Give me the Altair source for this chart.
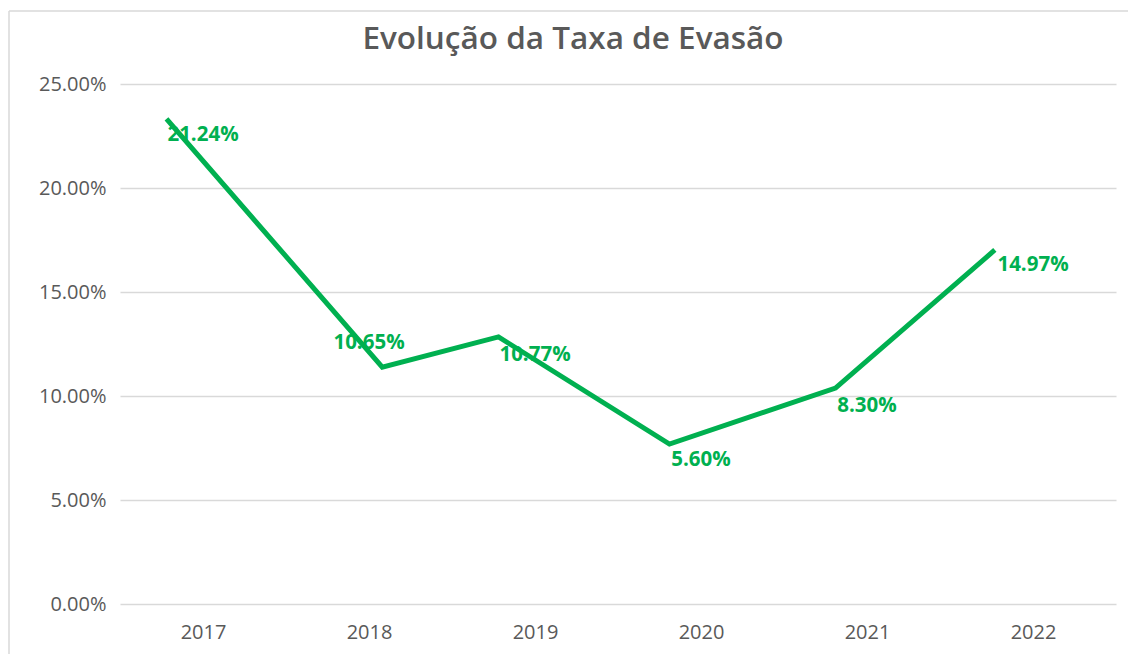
import altair as alt
import pandas as pd

# Data
years = [2017, 2018, 2019, 2020, 2021, 2022]
# positions of the drawn line's vertices (as fractional year along x, and rate)
line_x = [2016.78, 2018.08, 2018.78, 2019.81, 2020.81, 2021.77]
line_values = [0.2332, 0.1139, 0.1284, 0.0769, 0.1038, 0.1702]
# data labels as shown
label_values = [0.2124, 0.1065, 0.1077, 0.0560, 0.0830, 0.1497]
label_y = [0.2255, 0.1256, 0.1198, 0.0692, 0.0951, 0.1631]
y_ticks = [0.0, 0.05, 0.10, 0.15, 0.20, 0.25]

GREEN = "#00B050"
GRAY = "#595959"
FONT = "Open Sans"

line_df = pd.DataFrame({"x": line_x, "rate": line_values})
label_df = pd.DataFrame({"x": years, "y": label_y, "val": label_values})

xscale = alt.Scale(domain=[2016.5, 2022.5], nice=False, zero=False)
yscale = alt.Scale(domain=[0, 0.25], nice=False)

xaxis = alt.Axis(values=years, format="d", title=None, grid=False, domain=False,
                 ticks=False, labelPadding=18, labelFontSize=20, labelColor=GRAY,
                 labelFont=FONT)
yaxis = alt.Axis(values=y_ticks, format=".2%", title=None, grid=True, domain=False,
                 ticks=False, tickSize=0, labelPadding=14, labelFontSize=20,
                 labelColor=GRAY, labelFont=FONT, gridColor="#d9d9d9", gridWidth=1.5)

line = alt.Chart(line_df).mark_line(color=GREEN, strokeWidth=5).encode(
    x=alt.X("x:Q", scale=xscale, axis=xaxis),
    y=alt.Y("rate:Q", scale=yscale, axis=yaxis),
)

labels = alt.Chart(label_df).mark_text(
    color=GREEN, font=FONT, fontWeight="bold", fontSize=20.5, baseline="middle", align="center"
).encode(
    x=alt.X("x:Q", scale=xscale),
    y=alt.Y("y:Q", scale=yscale),
    text=alt.Text("val:Q", format=".2%"),
)

# faint outer chart border (decoration)
border_top = alt.Chart(pd.DataFrame({"a": [0]})).mark_rule(color="#d9d9d9", strokeWidth=1.5).encode(
    x=alt.value(-111), x2=alt.value(1015), y=alt.value(-73)
)
border_left = alt.Chart(pd.DataFrame({"a": [0]})).mark_rule(color="#d9d9d9", strokeWidth=1.5).encode(
    x=alt.value(-111), y=alt.value(-73), y2=alt.value(580)
)

chart = alt.layer(border_top, border_left, line, labels).properties(
    width=996,
    height=520,
    autosize=alt.AutoSizeParams(type="none"),
    padding={"left": 112, "top": 76, "right": 12, "bottom": 50},
    title=alt.TitleParams(
        "Evolução da Taxa de Evasão", font=FONT, fontSize=31.5, fontWeight=600,
        color=GRAY, anchor="middle", dx=-45, offset=-45, frame="group",
    ),
).configure_view(stroke=None)

chart.save("out.html", embed_options={"renderer": "svg", "actions": False})
